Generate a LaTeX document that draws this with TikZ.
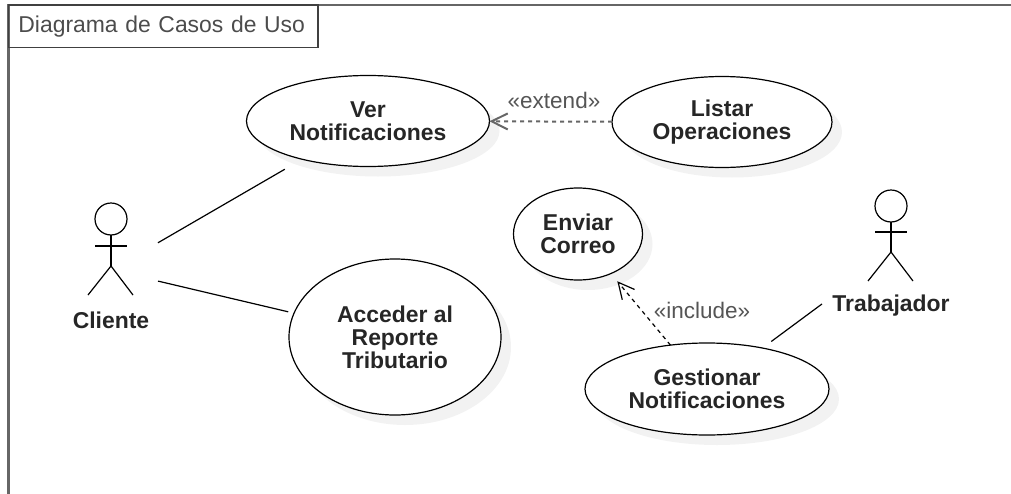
\documentclass[tikz,border=0pt]{standalone}
\usepackage{fontspec}
\setmainfont{Liberation Sans}
\usetikzlibrary{arrows.meta,shapes.geometric,shadows}
\definecolor{framegray}{HTML}{666666}
\definecolor{textgray}{HTML}{555555}
\tikzset{ 
   usecase/.style = {ellipse,draw,fill=white,line width=0.3mm,outer sep=0mm,inner sep=0mm,align=center,
      font=\bfseries\fontsize{16.3}{16.4}\selectfont,text=black!85,
      general shadow={fill=black!5,shadow xshift=2.5mm,shadow yshift=-2.5mm}},
   head/.style = {circle,draw,line width=0.3mm,outer sep=0mm,inner sep=0mm,minimum size=8mm},
   actorbox/.style = {rectangle,inner sep=0mm,outer sep=0mm},
   actorname/.style = {font=\bfseries\fontsize{16.3}{16.4}\selectfont,text=black!85,inner sep=0mm},
   stereo/.style = {font=\fontsize{16}{16.4}\selectfont,text=textgray,inner sep=0mm},
   assoc/.style = {line width=0.3mm},
   depend/.style = {line width=0.3mm,dash pattern=on 1mm off 1mm,-{Straight Barb[length=4mm,width=4mm]}},
}
\begin{document}
\begin{tikzpicture} 
      \useasboundingbox (0mm,0mm) rectangle (252.75mm,-123.5mm);

      % frame
      \coordinate (frameTop) at (252.75mm,-1.25mm);
      \coordinate (frameBot) at (2.1mm,-123.5mm);
      \draw[framegray,line width=0.7mm] (frameBot) |- (frameTop);
      \node[
         rectangle,
         draw=black!75,
         line width=0.45mm,
         anchor=north west,
         outer sep=0mm,
         inner xsep=2.5mm,
         text width=72.4mm,
         align=left,
         minimum height=10.6mm,
         font=\fontsize{16.3}{18}\selectfont,
         text=black!70,
      ] (title) at (2.1mm,-1.25mm) {Diagrama de Casos de Uso};

      % use cases
      \node[usecase,minimum width=60.75mm,minimum height=22.75mm] (ver) at (92mm,-30.25mm) {Ver\\Notificaciones};
      \node[usecase,minimum width=55mm,minimum height=22.75mm] (listar) at (180.5mm,-30.5mm) {Listar\\Operaciones};
      \node[usecase,minimum width=32.25mm,minimum height=23mm] (enviar) at (144.5mm,-58.5mm) {Enviar\\Correo};
      \node[usecase,minimum width=53mm,minimum height=39mm] (acceder) at (98.75mm,-84.25mm) {Acceder al\\Reporte\\Tributario};
      \node[usecase,minimum width=61mm,minimum height=23mm] (gestionar) at (176.75mm,-97.25mm) {Gestionar\\Notificaciones};

      % actors
      \node[actorbox,minimum width=23.5mm,minimum height=33.5mm] (cliente) at (27.75mm,-67.5mm) {};
      \node[head] (cliHead) at (27.75mm,-54.75mm) {};
      \node[actorname] (cliName) at (27.75mm,-80mm) {Cliente};
      \draw[assoc] (cliHead.south) -- ++(0mm,-7.75mm) coordinate (cliHip);
      \draw[assoc] (23.75mm,-61.5mm) -- (31.75mm,-61.5mm);
      \draw[assoc] (22mm,-73.75mm) -- (cliHip) -- (33.25mm,-73.75mm);

      \node[actorbox,minimum width=34.5mm,minimum height=32.5mm] (trabajador) at (222.75mm,-63.25mm) {};
      \node[head] (trabHead) at (222.75mm,-51.5mm) {};
      \node[actorname] (trabName) at (222.75mm,-76.5mm) {Trabajador};
      \draw[assoc] (trabHead.south) -- ++(0mm,-7.5mm) coordinate (trabHip);
      \draw[assoc] (218.75mm,-58mm) -- (226.75mm,-58mm);
      \draw[assoc] (217mm,-70.25mm) -- (trabHip) -- (228.25mm,-70.25mm);

      % connectors
      \draw[assoc,shorten >=5mm] (cliente) -- (ver);
      \draw[assoc,shorten >=1.5mm] (cliente) -- (acceder);
      \draw[assoc,shorten >=2.75mm] (trabajador) -- (gestionar);
      \draw[depend,draw=framegray,line width=0.5mm] (listar) -- (ver);
      \draw[depend,shorten >=2.5mm] (gestionar) -- (enviar);

      \node[stereo] (extendLabel) at (138.5mm,-25mm) {«extend»};
      \node[stereo] (includeLabel) at (175.5mm,-77.5mm) {«include»};

\end{tikzpicture}
\end{document}
